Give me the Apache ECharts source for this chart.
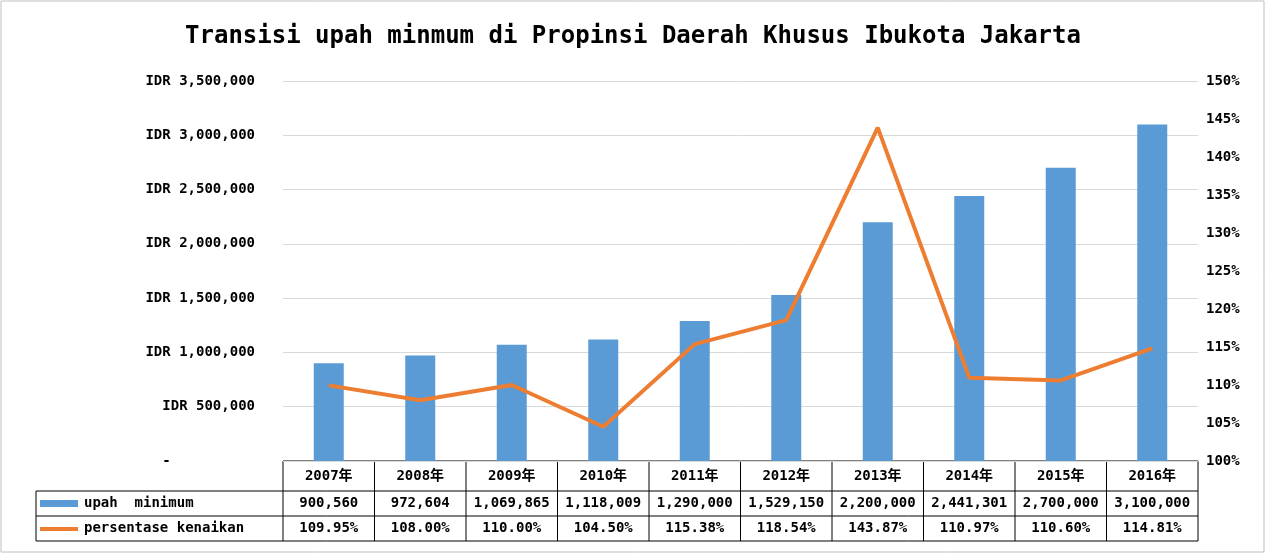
<!DOCTYPE html>
<html><head><meta charset="utf-8">
<script src="https://cdn.jsdelivr.net/npm/echarts@6/dist/echarts.min.js"></script>
<style>html,body{margin:0;padding:0;background:#fff}#c{width:1266px;height:554px}</style>
</head><body><div id="c"></div>
<script>
const categories=['2007年','2008年','2009年','2010年','2011年','2012年','2013年','2014年','2015年','2016年'];
const wages=[900560,972604,1069865,1118009,1290000,1529150,2200000,2441301,2700000,3100000];
const increases=[109.95,108.00,110.00,104.50,115.38,118.54,143.87,110.97,110.60,114.81];
const seriesNames=['upah  minimum','persentase kenaikan'];
const title='Transisi upah minmum di Propinsi Daerah Khusus Ibukota Jakarta';

const FONT='"DejaVu Sans Mono", "Noto Sans CJK JP", monospace';
const GL=283, GR=1198, GT=81, GB=461, W=1266, H=554;
const cw=(GR-GL)/categories.length;
const rows=[GB,491,516,541];
const chart=echarts.init(document.getElementById('c'));
const g=[];
g.push({type:'rect',shape:{x:1,y:1,width:W-3,height:H-3},style:{fill:'none',stroke:'#bfbfbf',lineWidth:1}});
const ls={stroke:'#000',lineWidth:1};
g.push({type:'line',shape:{x1:GL,y1:rows[0],x2:GR,y2:rows[0]},style:ls});
for(let r=1;r<4;r++) g.push({type:'line',shape:{x1:36,y1:rows[r],x2:GR,y2:rows[r]},style:ls});
g.push({type:'line',shape:{x1:36,y1:rows[1],x2:36,y2:rows[3]},style:ls});
for(let i=0;i<=categories.length;i++){
  const x=GL+i*cw;
  g.push({type:'line',shape:{x1:x,y1:rows[0],x2:x,y2:rows[3]},style:ls});
}
const ts={fontFamily:FONT,fontSize:14,fill:'#000',align:'center',verticalAlign:'middle',fontWeight:'bold'};
categories.forEach((c,i)=>{
  const cx=GL+(i+0.5)*cw;
  g.push({type:'text',x:cx,y:(rows[0]+rows[1])/2,style:Object.assign({text:c},ts)});
  g.push({type:'text',x:cx,y:(rows[1]+rows[2])/2,style:Object.assign({text:wages[i].toLocaleString('en-US')},ts)});
  g.push({type:'text',x:cx,y:(rows[2]+rows[3])/2,style:Object.assign({text:increases[i].toFixed(2)+'%'},ts)});
});
g.push({type:'rect',shape:{x:40,y:500,width:38,height:7},style:{fill:'#5B9BD5'}});
g.push({type:'line',shape:{x1:40,y1:529,x2:78,y2:529},style:{stroke:'#ED7D31',lineWidth:4}});
g.push({type:'text',x:84,y:(rows[1]+rows[2])/2,style:Object.assign({},ts,{text:seriesNames[0],align:'left'})});
g.push({type:'text',x:84,y:(rows[2]+rows[3])/2,style:Object.assign({},ts,{text:seriesNames[1],align:'left'})});

chart.setOption({
  animation:false,
  title:{text:title,left:'center',top:20,textStyle:{fontFamily:FONT,fontSize:24,fontWeight:'bold',color:'#000'}},
  grid:{left:GL,right:W-GR,top:GT,bottom:H-GB},
  xAxis:{type:'category',data:categories,axisLabel:{show:false},axisTick:{show:false},axisLine:{show:false}},
  yAxis:[{type:'value',min:0,max:3500000,interval:500000,
    axisLabel:{fontFamily:FONT,fontSize:14,fontWeight:'bold',color:'#000',margin:28,
      formatter:v=>v===0?'-          ':'IDR '+v.toLocaleString('en-US')},
    splitLine:{lineStyle:{color:'#d9d9d9'}},axisLine:{show:false},axisTick:{show:false}},
   {type:'value',min:100,max:150,interval:5,position:'right',
    axisLabel:{fontFamily:FONT,fontSize:14,fontWeight:'bold',color:'#000',margin:8,formatter:'{value}%'},
    splitLine:{show:false},axisLine:{show:false},axisTick:{show:false}}],
  series:[
   {name:seriesNames[0],type:'bar',data:wages,barWidth:30,itemStyle:{color:'#5B9BD5'}},
   {name:seriesNames[1],type:'line',yAxisIndex:1,data:increases,symbol:'none',lineStyle:{color:'#ED7D31',width:4}}
  ],
  graphic:g
});
</script></body></html>
